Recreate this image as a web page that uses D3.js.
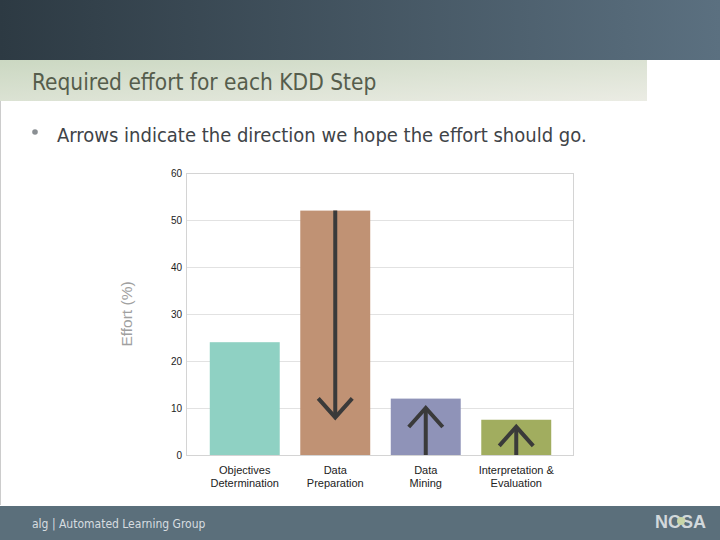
<!DOCTYPE html>
<html><head><meta charset="utf-8">
<script src="https://cdn.jsdelivr.net/npm/d3@7/dist/d3.min.js"></script>
<style>html,body{margin:0;padding:0;background:#fff;}svg{display:block;}</style>
</head><body>
<script>
const categories = [["Objectives","Determination"],["Data","Preparation"],["Data","Mining"],["Interpretation &","Evaluation"]];
const effort = [24, 52, 12, 7.5];
const barColors = ["#8fd1c3","#c09274","#8f93b8","#a1ad5f"];
const arrowFrom = [null, 52, 0, 0];
const arrowTo = [null, 8, 10, 6];
const yTicks = [0,10,20,30,40,50,60];

const W=720,H=540;
const svg=d3.select("body").append("svg").attr("width",W).attr("height",H);
const defs=svg.append("defs");
const hg=defs.append("linearGradient").attr("id","hdr").attr("x1","0").attr("x2","1");
hg.append("stop").attr("offset","0").attr("stop-color","#2d3a43");
hg.append("stop").attr("offset","1").attr("stop-color","#5b7080");
const tg=defs.append("linearGradient").attr("id","ttl").attr("x1","0").attr("y1","0").attr("x2","1").attr("y2","1");
tg.append("stop").attr("offset","0").attr("stop-color","#cbd8c2");
tg.append("stop").attr("offset","1").attr("stop-color","#ebece4");

svg.append("rect").attr("width",W).attr("height",60).attr("fill","url(#hdr)");
svg.append("rect").attr("y",60).attr("width",647).attr("height",41).attr("fill","url(#ttl)");
svg.append("text").attr("x",32).attr("y",90).text("Required effort for each KDD Step")
  .attr("font-family","DejaVu Sans Condensed, DejaVu Sans").attr("font-size",22.5).attr("fill","#565d4c");
svg.append("line").attr("x1",0.5).attr("x2",0.5).attr("y1",101).attr("y2",505).attr("stroke","#ccc");
svg.append("rect").attr("y",506).attr("width",W).attr("height",34).attr("fill","#5b6f7b");
svg.append("text").attr("x",32).attr("y",528).text("alg | Automated Learning Group")
  .attr("font-family","DejaVu Sans Condensed, DejaVu Sans").attr("font-size",12).attr("fill","#d7dde0");
svg.append("text").attr("x",706).attr("y",528).attr("text-anchor","end").text("NCSA")
  .attr("font-family","Liberation Sans").attr("font-weight","bold").attr("font-size",18).attr("fill","#d2d8db");
svg.append("circle").attr("cx",681).attr("cy",521).attr("r",4).attr("fill","#c8d6a8");

svg.append("circle").attr("cx",35).attr("cy",132).attr("r",2.8).attr("fill","#8a8f93");
svg.append("text").attr("x",57).attr("y",141.5).text("Arrows indicate the direction we hope the effort should go.")
  .attr("font-family","DejaVu Sans Condensed, DejaVu Sans").attr("font-size",20).attr("fill","#3f4448");

const L=186,R=573,T=173,B=455;
const y=d3.scaleLinear().domain([0,60]).range([B,T]);
const x=d3.scaleBand().domain(d3.range(categories.length)).range([199.5,561.5]).paddingInner(0.227).paddingOuter(0.1135);

const g=svg.append("g");
g.selectAll("line.grid").data(yTicks).join("line").attr("class","grid")
  .attr("x1",L).attr("x2",R).attr("y1",d=>y(d)+0.5).attr("y2",d=>y(d)+0.5).attr("stroke","#e2e2e2");
g.append("rect").attr("x",L+0.5).attr("y",T+0.5).attr("width",R-L).attr("height",B-T).attr("fill","none").attr("stroke","#d4d4d4");

const yAxis=d3.axisLeft(y).tickValues(yTicks).tickSize(0).tickPadding(4);
const ya=g.append("g").attr("transform",`translate(${L},0)`).call(yAxis);
ya.select(".domain").remove();
ya.selectAll("text").attr("font-family","Liberation Sans, Arial").attr("font-size",10).attr("fill","#222");

g.append("text").attr("transform",`translate(132,314) rotate(-90)`).attr("text-anchor","middle")
  .text("Effort (%)").attr("font-family","Liberation Sans, Arial").attr("font-size",15.5).attr("fill","#a0a0a0");

g.selectAll("rect.bar").data(effort).join("rect").attr("class","bar")
  .attr("x",(d,i)=>x(i)).attr("width",x.bandwidth()).attr("y",d=>y(d)).attr("height",d=>y(0)-y(d))
  .attr("fill",(d,i)=>barColors[i]);

const xl=g.selectAll("text.xl").data(categories).join("text").attr("class","xl")
  .attr("text-anchor","middle").attr("font-family","Liberation Sans, Arial").attr("font-size",11).attr("fill","#222");
xl.each(function(d,i){
  const t=d3.select(this);
  d.forEach((s,k)=>t.append("tspan").attr("x",x(i)+x.bandwidth()/2).attr("y",473.5+k*13).text(s));
});

const arrows=d3.range(categories.length).filter(i=>arrowFrom[i]!==null);
const ag=g.selectAll("g.arrow").data(arrows).join("g").attr("class","arrow");
ag.append("line").attr("x1",i=>x(i)+x.bandwidth()/2).attr("x2",i=>x(i)+x.bandwidth()/2)
  .attr("y1",i=>y(arrowFrom[i])).attr("y2",i=>y(arrowTo[i])).attr("stroke","#3a3a3a").attr("stroke-width",4);
ag.append("path").attr("d",i=>{
  const cx=x(i)+x.bandwidth()/2, ty=y(arrowTo[i]);
  const dir=arrowTo[i]<arrowFrom[i]?-1:1;
  const hy=ty+(dir<0?-19:19);
  return `M${cx-17},${hy}L${cx},${ty}L${cx+17},${hy}`;
}).attr("fill","none").attr("stroke","#3a3a3a").attr("stroke-width",4);
</script>
</body></html>
